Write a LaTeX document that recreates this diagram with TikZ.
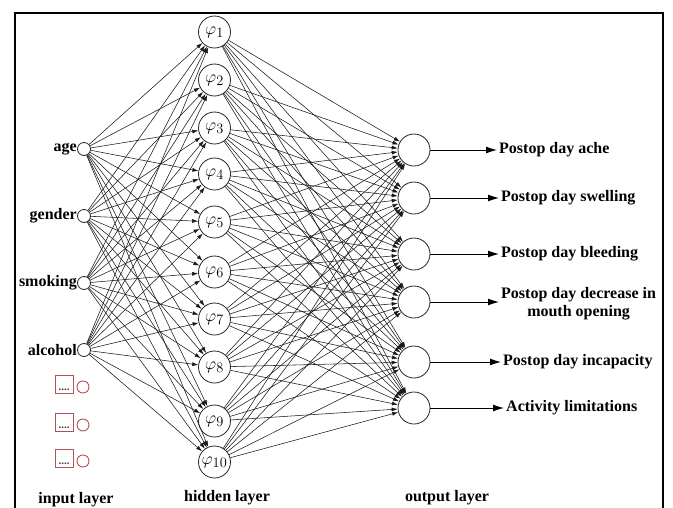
\documentclass[tikz,border=0pt]{standalone}
\usepackage{fontspec}
\setmainfont{Liberation Serif}
\usetikzlibrary{arrows.meta}
\definecolor{boxred}{RGB}{175,85,85}
\begin{document}
\begin{tikzpicture}[x=1pt,y=-1pt,
  neuron/.style={circle,draw=black!85,line width=0.8pt,minimum size=32pt,inner sep=0pt,font=\fontsize{19}{20}\selectfont},
  innode/.style={circle,draw=black!85,line width=0.8pt,minimum size=13pt,inner sep=0pt},
  redsq/.style={rectangle,draw=boxred,line width=0.9pt,minimum size=18pt,inner sep=0pt},
  redci/.style={circle,draw=boxred,line width=0.9pt,minimum size=12pt,inner sep=0pt},
  dots/.style={font=\bfseries\fontsize{11}{11}\selectfont,inner sep=0pt,text=black!75},
  conn/.style={line width=0.55pt,draw=black!90,-{Latex[length=6pt,width=4pt]}},
  outarrow/.style={line width=1pt,-{Latex[length=11pt,width=7pt]}},
  lbl/.style={font=\bfseries\fontsize{16}{18}\selectfont,inner sep=0pt},
  frame/.style={line width=1.6pt}]
\useasboundingbox (0,0) rectangle (673,507);
\draw[frame] (15,530) -- (15,13) -- (663,13) -- (663,530);

% input layer
\node[innode] (in1) at (84,149) {};
\node[innode] (in2) at (84,216) {};
\node[innode] (in3) at (84,283) {};
\node[innode] (in4) at (84,350) {};
\node[lbl,anchor=east] (l1) at (77,149) {age};
\node[lbl,anchor=east] (l2) at (77,216) {gender};
\node[lbl,anchor=east] (l3) at (77,283) {smoking};
\node[lbl,anchor=east] (l4) at (77,350) {alcohol};

% placeholders
\foreach \k/\y in {1/384,2/422,3/458}{
  \node[redsq] (s\k) at (64,\y) {};
  \node[dots,anchor=south] (d\k) at ([yshift=2.5pt]s\k.south) {....};
  \node[redci] (c\k) at (83,\y+3) {};
}

% hidden layer
\foreach \j/\y in {1/32,2/80,3/128,4/174,5/222,6/272,7/319,8/367,9/421,10/462}{
  \node[neuron] (h\j) at (214.5,\y) {$\varphi_{\j}$};
}

% output layer
\foreach \k/\y in {1/150,2/198,3/254,4/302,5/362,6/408}{
  \node[neuron] (o\k) at (414,\y) {};
}

% connections
\foreach \i in {1,...,4}{
  \foreach \j in {1,...,10}{
    \draw[conn] (in\i) -- (h\j);
  }
}
\foreach \j in {1,...,10}{
  \foreach \k in {1,...,6}{
    \draw[conn] (h\j) -- (o\k);
  }
}

% output labels
\node[lbl,anchor=west] (t1) at (499,150) {Postop day ache};
\node[lbl,anchor=west] (t2) at (501,198) {Postop day swelling};
\node[lbl,anchor=west] (t3) at (501,254) {Postop day bleeding};
\node[lbl,anchor=west,align=center] (t4) at (501,304) {Postop day decrease in\\mouth opening};
\node[lbl,anchor=west] (t5) at (503,362) {Postop day incapacity};
\node[lbl,anchor=west] (t6) at (506,408) {Activity limitations};
\foreach \k in {1,...,6}{
  \draw[outarrow] (o\k) -- ([xshift=-2pt]o\k -| t\k.west);
}

% layer labels
\node[lbl] (b1) at (76,500) {input layer};
\node[lbl] (b2) at (227,498) {hidden layer};
\node[lbl] (b3) at (447,498) {output layer};
\end{tikzpicture}
\end{document}
